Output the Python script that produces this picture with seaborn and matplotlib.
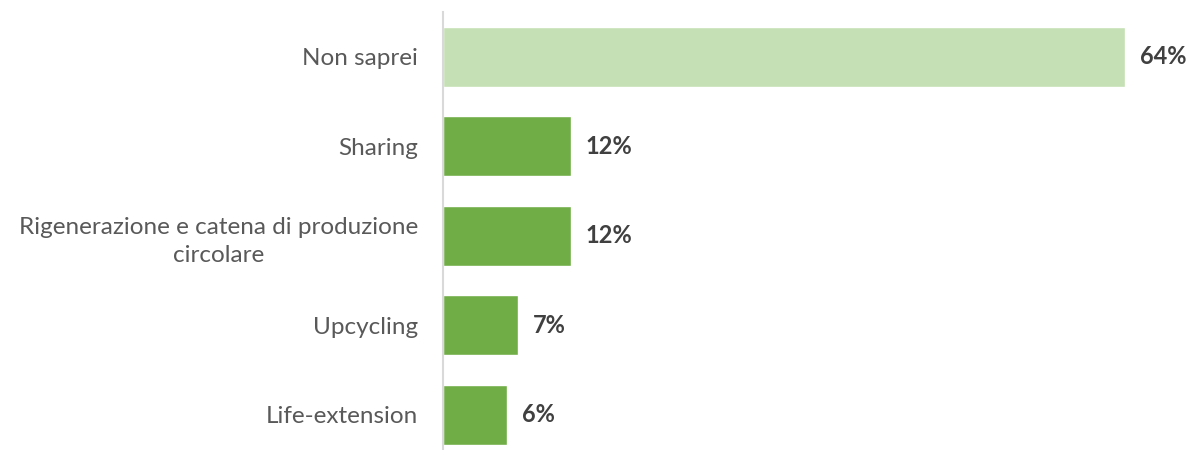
import matplotlib
matplotlib.use("Agg")
import matplotlib.pyplot as plt
import seaborn as sns
import pandas as pd

categories = ["Non saprei", "Sharing", "Rigenerazione e catena di produzione\ncircolare",
              "Upcycling", "Life-extension"]
values = [64, 12, 12, 7, 6]
colors = ["#C5E0B4", "#70AD47", "#70AD47", "#70AD47", "#70AD47"]
value_labels = ["64%", "12%", "12%", "7%", "6%"]

sns.set_theme(style="white")
plt.rcParams['font.family'] = ['Lato', 'DejaVu Sans']

df = pd.DataFrame({"cat": categories, "val": values})

fig = plt.figure(figsize=(11.89, 4.5), dpi=100)
ax = fig.add_axes([443/1189, -9.5/450, 1 - 443/1189, (459.5 - 12)/450])

sns.barplot(data=df, x="val", y="cat", hue="cat", palette=colors, legend=False,
            width=0.67, ax=ax, orient="h", saturation=1)

ax.set_xlim(0, 70)
ax.set_ylim(4.5, -0.5)
ax.set_xlabel("")
ax.set_ylabel("")
ax.set_xticks([])
for s in ["top", "right", "bottom"]:
    ax.spines[s].set_visible(False)
ax.spines["left"].set_color("#D9D9D9")
ax.spines["left"].set_linewidth(1.5)

ax.tick_params(axis="y", length=0, pad=18, labelsize=17.5, labelcolor="#595959")
for lab in ax.get_yticklabels():
    lab.set_multialignment("center")
    lab.set_linespacing(1.4)

for i, (v, t) in enumerate(zip(values, value_labels)):
    ax.text(v + 1.4, i, t, va="center", ha="left", fontsize=17,
            fontweight="bold", color="#404040")

fig.savefig("out.png", dpi=100)
